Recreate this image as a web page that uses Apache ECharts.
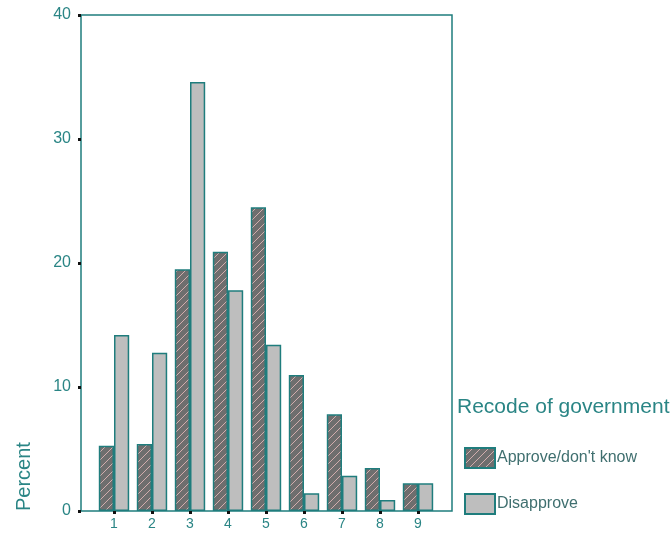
<!DOCTYPE html>
<html><head><meta charset="utf-8">
<script src="https://cdn.jsdelivr.net/npm/echarts@6/dist/echarts.min.js"></script>
<style>html,body{margin:0;padding:0;background:#fff}#c{width:672px;height:535px}</style>
</head><body><div id="c"></div>
<script>
var categories = ['1','2','3','4','5','6','7','8','9'];
var approveValues = [5.27, 5.4, 19.5, 20.9, 24.5, 10.97, 7.8, 3.47, 2.23];
var disapproveValues = [14.2, 12.77, 34.6, 17.8, 13.4, 1.43, 2.85, 0.89, 2.23];
var yTicks = [0, 10, 20, 30, 40];
var seriesNames = ['Approve/don\'t know', 'Disapprove'];
var legendTitle = 'Recode of government';
var yAxisTitle = 'Percent';

var LINE = '#1f7d7d';
var TEXT = '#2a8585';
var FONT = '"Liberation Sans", Arial, sans-serif';

function hatch() {
  var c = document.createElement('canvas');
  c.width = 8; c.height = 8;
  var g = c.getContext('2d');
  g.fillStyle = '#6e6e6e';
  g.fillRect(0, 0, 8, 8);
  g.strokeStyle = 'rgba(220,180,180,0.9)';
  g.lineWidth = 1;
  g.beginPath();
  g.moveTo(0, 8); g.lineTo(8, 0);
  g.moveTo(-4, 4); g.lineTo(4, -4);
  g.moveTo(4, 12); g.lineTo(12, 4);
  g.stroke();
  return c;
}

var chart = echarts.init(document.getElementById('c'), null, {renderer: 'canvas'});
chart.setOption({
  animation: false,
  backgroundColor: '#fff',
  title: {
    text: legendTitle, left: 457, top: 397, padding: 0,
    textStyle: {color: TEXT, fontSize: 21, fontWeight: 'normal', fontFamily: FONT}
  },
  legend: {
    orient: 'vertical', left: 464, top: 447, padding: 0,
    itemWidth: 30, itemHeight: 20, itemGap: 24, icon: 'rect',
    data: seriesNames,
    textStyle: {color: '#3f6f6f', fontSize: 16, fontFamily: FONT, padding: [0, 0, 0, -3]}
  },
  graphic: [{
    type: 'text', x: 24, y: 511, rotation: Math.PI / 2,
    style: {text: yAxisTitle, fill: TEXT, fontSize: 20, fontFamily: FONT,
            textAlign: 'left', textVerticalAlign: 'middle'}
  }],
  grid: [
    {left: 81, width: 371, top: 15, height: 496, show: true,
     borderColor: LINE, borderWidth: 1.5, backgroundColor: 'transparent'},
    {left: 95, width: 342, top: 15, height: 496}
  ],
  xAxis: [
    {gridIndex: 0, type: 'value', min: 0, max: 1, show: false},
    {gridIndex: 1, type: 'category', data: categories,
     axisLine: {show: false},
     axisTick: {show: true, alignWithLabel: true, length: 3, lineStyle: {color: '#111', width: 3}},
     axisLabel: {color: TEXT, fontSize: 14, fontFamily: FONT, margin: 6}}
  ],
  yAxis: [
    {gridIndex: 0, type: 'value', min: yTicks[0], max: yTicks[yTicks.length - 1], interval: 10,
     axisLine: {show: false},
     axisTick: {show: true, length: 3, lineStyle: {color: '#111', width: 3}},
     axisLabel: {color: TEXT, fontSize: 16, fontFamily: FONT, margin: 10},
     splitLine: {show: false}},
    {gridIndex: 1, type: 'value', min: yTicks[0], max: yTicks[yTicks.length - 1], show: false,
     splitLine: {show: false}}
  ],
  series: [
    {name: seriesNames[0], type: 'bar', xAxisIndex: 1, yAxisIndex: 1,
     data: approveValues, barGap: '0%', barCategoryGap: '20%',
     itemStyle: {color: {image: hatch(), repeat: 'repeat'}, borderColor: LINE, borderWidth: 1.5}},
    {name: seriesNames[1], type: 'bar', xAxisIndex: 1, yAxisIndex: 1,
     data: disapproveValues, barGap: '0%', barCategoryGap: '20%',
     itemStyle: {color: '#bebebe', borderColor: LINE, borderWidth: 1.5}}
  ]
});
</script></body></html>
